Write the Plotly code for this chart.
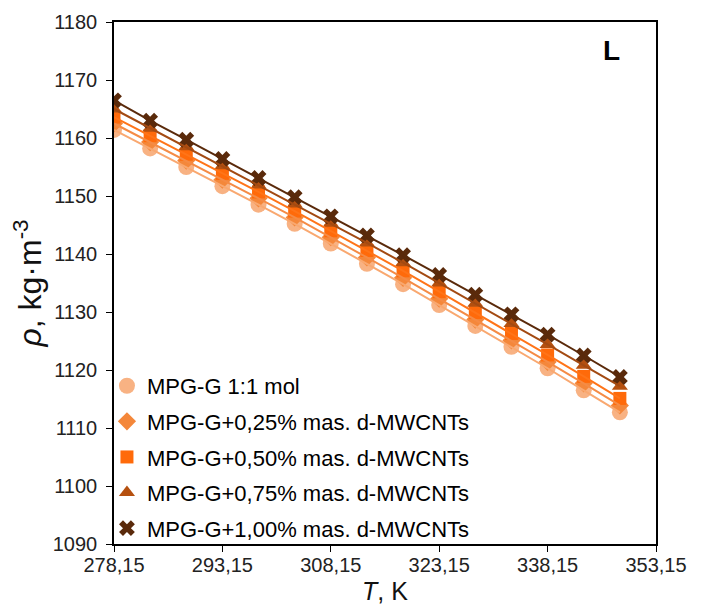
import plotly.graph_objs as go

temp = [278.15, 283.15, 288.15, 293.15, 298.15, 303.15, 308.15, 313.15,
        318.15, 323.15, 328.15, 333.15, 338.15, 343.15, 348.15]

rho_base = [1161.4, 1158.2, 1155.0, 1151.7, 1148.5, 1145.2, 1141.8, 1138.3,
            1134.8, 1131.2, 1127.6, 1124.0, 1120.3, 1116.5, 1112.7]
rho_025 = [1162.5, 1159.3, 1156.1, 1152.8, 1149.6, 1146.3, 1142.9, 1139.4,
           1135.9, 1132.3, 1128.7, 1125.1, 1121.4, 1117.7, 1113.9]
rho_050 = [1163.6, 1160.4, 1157.2, 1153.9, 1150.7, 1147.4, 1144.0, 1140.6,
           1137.1, 1133.5, 1129.9, 1126.3, 1122.6, 1118.9, 1115.1]
rho_075 = [1165.0, 1161.7, 1158.5, 1155.2, 1151.9, 1148.6, 1145.3, 1141.9,
           1138.5, 1135.0, 1131.5, 1128.0, 1124.4, 1120.8, 1117.2]
rho_100 = [1166.5, 1163.0, 1159.7, 1156.4, 1153.1, 1149.8, 1146.5, 1143.2,
           1139.8, 1136.4, 1133.0, 1129.6, 1126.1, 1122.5, 1118.8]

names = ["MPG-G 1:1 mol",
         "MPG-G+0,25% mas. d-MWCNTs",
         "MPG-G+0,50% mas. d-MWCNTs",
         "MPG-G+0,75% mas. d-MWCNTs",
         "MPG-G+1,00% mas. d-MWCNTs"]

x_ticks = [278.15, 293.15, 308.15, 323.15, 338.15, 353.15]
x_labels = ["278,15", "293,15", "308,15", "323,15", "338,15", "353,15"]

series = [rho_base, rho_025, rho_050, rho_075, rho_100]
colors = ["#F8B283", "#F4873A", "#FF6A0A", "#B5500F", "#5A2A0B"]
line_colors = ["#F9A870", "#F58B45", "#FF7418", "#A34A12", "#5A2A0B"]
symbols = ["circle", "diamond", "square", "triangle-up", "x"]
sizes = [16, 14, 13, 14, 14]

fig = go.Figure()
for i, (vals, name) in enumerate(zip(series, names)):
    fig.add_trace(go.Scatter(x=temp, y=vals, name=name, mode="markers",
                             legendgroup="g%d" % i,
                             marker=dict(symbol=symbols[i], size=sizes[i], color=colors[i],
                                         line=dict(width=0))))
for i, vals in enumerate(series):
    fig.add_trace(go.Scatter(x=temp, y=vals, mode="lines", showlegend=False,
                             legendgroup="g%d" % i,
                             line=dict(color=line_colors[i], width=2)))

fig.add_annotation(text="<b>L</b>", xref="paper", yref="paper", x=0.917, y=0.945,
                   xanchor="center", yanchor="middle",
                   showarrow=False, font=dict(size=28, color="black"))
fig.add_annotation(text="5", xref="paper", yref="paper", x=-0.196, y=-0.025,
                   xanchor="right", yanchor="middle", showarrow=False,
                   font=dict(size=20, color="#222222"))

fig.update_layout(
    width=696, height=606,
    paper_bgcolor="white", plot_bgcolor="white",
    font=dict(family="Liberation Sans, Arial, sans-serif", color="#111111"),
    margin=dict(l=106, r=48, t=14, b=70),
    legend=dict(x=-0.013, y=0.343, xanchor="left", yanchor="top",
                bgcolor="rgba(0,0,0,0)", font=dict(size=22, color="black"),
                tracegroupgap=4, itemsizing="trace"),
    xaxis=dict(range=[278.15, 353.15], tickvals=x_ticks, ticktext=x_labels,
               showgrid=False, zeroline=False, showline=True, linecolor="black",
               linewidth=1.5, mirror=True, ticks="outside", ticklen=6,
               tickcolor="black", tickfont=dict(size=20, color="#222222"),
               automargin=False, ticklabelstandoff=-4,
               title=dict(text="<i>T</i>, K", font=dict(size=25, color="#111111"), standoff=8)),
    yaxis=dict(range=[1090, 1180], dtick=10, showgrid=False, zeroline=False,
               showline=True, linecolor="black", linewidth=1.5, mirror=True,
               ticks="outside", ticklen=6, tickcolor="black", automargin=False,
               tickfont=dict(size=20, color="#222222"), ticklabelstandoff=5,
               title=dict(text="<i>ρ</i>, kg·m<sup>-3</sup>", font=dict(size=32, color="#111111"),
                          standoff=16)),
)

fig.write_html("out.html")
